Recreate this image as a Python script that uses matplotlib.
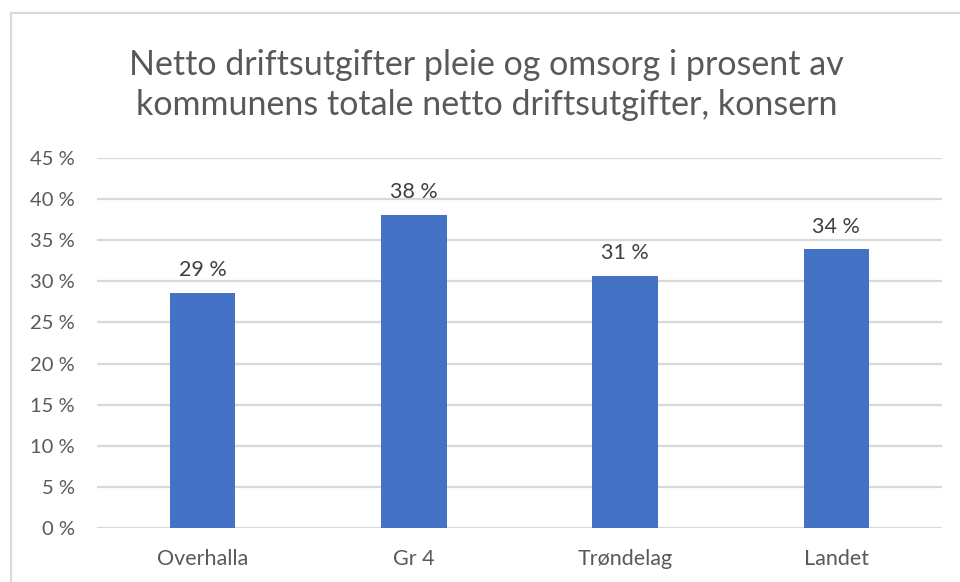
import matplotlib.pyplot as plt
from matplotlib.patches import Rectangle

categories = ['Overhalla', 'Gr 4', 'Trøndelag', 'Landet']
values = [28.6, 38.1, 30.7, 33.9]
labels = ['29 %', '38 %', '31 %', '34 %']
yticks = [0, 5, 10, 15, 20, 25, 30, 35, 40, 45]

title = ('Netto driftsutgifter pleie og omsorg i prosent av\n'
         'kommunens totale netto driftsutgifter, konsern')

plt.rcParams['font.family'] = ['Lato', 'DejaVu Sans']
text_color = '#595959'
grid_color = '#d9d9d9'
bar_color = '#4472c4'

fig = plt.figure(figsize=(9.6, 5.82), dpi=100)
fig.patch.set_facecolor('white')

# outer chart frame (cut off on the right and bottom in the source)
fig.patches.append(Rectangle((11 / 960, -0.05), 1.2, 1 - 13 / 582 + 0.05,
                             transform=fig.transFigure, fill=False,
                             edgecolor='#d9d9d9', linewidth=1.5))

ax = fig.add_axes([97 / 960, 1 - 528 / 582, 845 / 960, 370 / 582])
x = range(len(categories))
ax.bar(x, values, width=0.31, color=bar_color, zorder=3)

for xi, v, lab in zip(x, values, labels):
    ax.annotate(lab, (xi, v), xytext=(0, 9), textcoords='offset points',
                ha='center', va='bottom', fontsize=15.5, color='#404040')

ax.set_xlim(-0.5, len(categories) - 0.5)
ax.set_ylim(0, 45)
ax.set_yticks(yticks)
ax.set_yticklabels([f'{t} %' for t in yticks])
ax.set_xticks(list(x))
ax.set_xticklabels(categories)
ax.tick_params(axis='both', length=0, colors=text_color)
ax.tick_params(axis='x', pad=15, labelsize=15.5)
ax.tick_params(axis='y', pad=16, labelsize=14.5)

ax.grid(axis='y', color=grid_color, linewidth=1.6, zorder=0)
for s in ax.spines.values():
    s.set_visible(False)

fig.text(0.507, 1 - 85 / 582, title, ha='center', va='center',
         fontsize=24.5, color=text_color, linespacing=1.28)

fig.savefig('out.png', dpi=100)
